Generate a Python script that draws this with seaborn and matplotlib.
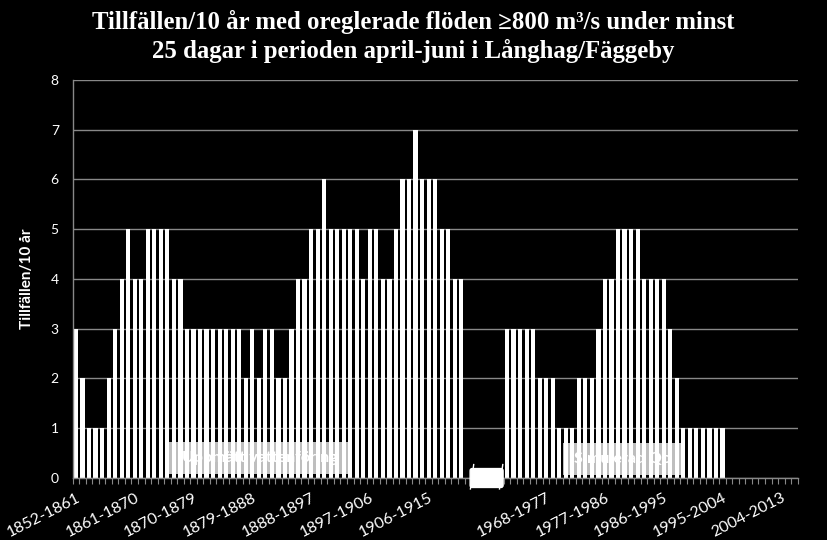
import numpy as np
import pandas as pd
import matplotlib
matplotlib.use("Agg")
import matplotlib.pyplot as plt
import seaborn as sns
from matplotlib.patches import Rectangle, FancyBboxPatch

# 10-year windows, one per start year
early_starts = list(range(1852, 1912))
early_counts = [3, 2, 1, 1, 1, 2, 3, 4, 5, 4, 4, 5, 5, 5, 5, 4, 4, 3, 3, 3,
                3, 3, 3, 3, 3, 3, 2, 3, 2, 3, 3, 2, 2, 3, 4, 4, 5, 5, 6, 5,
                5, 5, 5, 5, 4, 5, 5, 4, 4, 5, 6, 6, 7, 6, 6, 6, 5, 5, 4, 4]
late_starts = list(range(1962, 1996))
late_counts = [3, 3, 3, 3, 3, 2, 2, 2, 1, 1, 1, 2, 2, 2, 3, 4, 4, 5, 5, 5,
               5, 4, 4, 4, 4, 3, 2, 1, 1, 1, 1, 1, 1, 1]
axis_last_start = 2006
gap_slots = 6
shown_labels = ["1852-1861", "1861-1870", "1870-1879", "1879-1888", "1888-1897",
                "1897-1906", "1906-1915", "1968-1977", "1977-1986", "1986-1995",
                "1995-2004", "2004-2013"]
box_texts = ["Uppmätt vattenföring", "Simulerad Qo"]

def period(y):
    return f"{y}-{y + 9}"

order = ([period(y) for y in early_starts]
         + [" " * (k + 1) for k in range(gap_slots)]
         + [period(y) for y in range(late_starts[0], axis_last_start + 1)])

df = pd.DataFrame({
    "period": [period(y) for y in early_starts] + [period(y) for y in late_starts],
    "count": early_counts + late_counts,
})

grey = "#888888"
fig = plt.figure(figsize=(8.27, 5.4), dpi=100, facecolor="black")
ax = fig.add_axes([0.0879, 0.1148, 0.8766, 0.7371], facecolor="black")

sns.barplot(data=df, x="period", y="count", order=order, color="white",
            saturation=1, width=0.64, edgecolor="none", ax=ax)

ax.set_xlim(-0.5, len(order) - 0.5)
ax.set_ylim(0, 8)
ax.set_yticks(range(0, 9))
ax.yaxis.grid(True, color=grey, lw=1)
ax.set_axisbelow(True)
for s in ["top", "right"]:
    ax.spines[s].set_visible(False)
for s in ["left", "bottom"]:
    ax.spines[s].set_color(grey)
    ax.spines[s].set_linewidth(1)

pos = [order.index(l) for l in shown_labels]
ax.set_xticks(pos)
ax.set_xticklabels(shown_labels, rotation=27, ha="right", rotation_mode="anchor",
                   color="white", fontsize=11.5, family="Lato")
ax.set_xticks(np.arange(-0.5, len(order), 1), minor=True)
ax.tick_params(axis="x", which="major", length=0, pad=9)
ax.tick_params(axis="x", which="minor", length=4, color=grey, width=0.8)
ax.tick_params(axis="y", length=0, labelcolor="white", labelsize=10, pad=10)
for t in ax.get_yticklabels():
    t.set_family("Lato")
ax.set_xlabel("")
ax.set_ylabel("Tillfällen/10 år", color="white", fontsize=11, fontweight="bold",
              family="Lato", labelpad=12)

# text boxes inside the plot
for (x0, x1, y0, y1), txt in zip([(14.3, 41.9, 0.08, 0.73), (74.5, 93.0, 0.06, 0.71)], box_texts):
    ax.add_patch(Rectangle((x0, y0), x1 - x0, y1 - y0, facecolor="white", alpha=0.75,
                           edgecolor="none", zorder=5))
    ax.text((x0 + x1) / 2, (y0 + y1) / 2, txt, color="white", ha="center", va="center",
            fontsize=11.5, fontweight="bold", family="Lato", zorder=6)

# axis break marker
bx0, bx1 = 60.35, 65.4
ax.add_patch(FancyBboxPatch((bx0, -0.19), bx1 - bx0, 0.38,
                            boxstyle="round,pad=0,rounding_size=0.3",
                            facecolor="white", edgecolor="white", clip_on=False, zorder=7,
                            mutation_aspect=0.15))
for bx in (bx0 + 0.3, bx1 - 0.3):
    ax.plot([bx - 0.25, bx + 0.25], [-0.22, 0.27], color="white", lw=1, clip_on=False, zorder=8)

fig.text(0.5, 0.959, "Tillfällen/10 år med oreglerade flöden ≥800 m³/s under minst",
         ha="center", va="center", color="white", fontsize=17.8, fontweight="bold",
         family="Liberation Serif")
fig.text(0.5, 0.905, "25 dagar i perioden april-juni i Långhag/Fäggeby",
         ha="center", va="center", color="white", fontsize=17.8, fontweight="bold",
         family="Liberation Serif")

fig.savefig("out.png", dpi=100, facecolor="black")
